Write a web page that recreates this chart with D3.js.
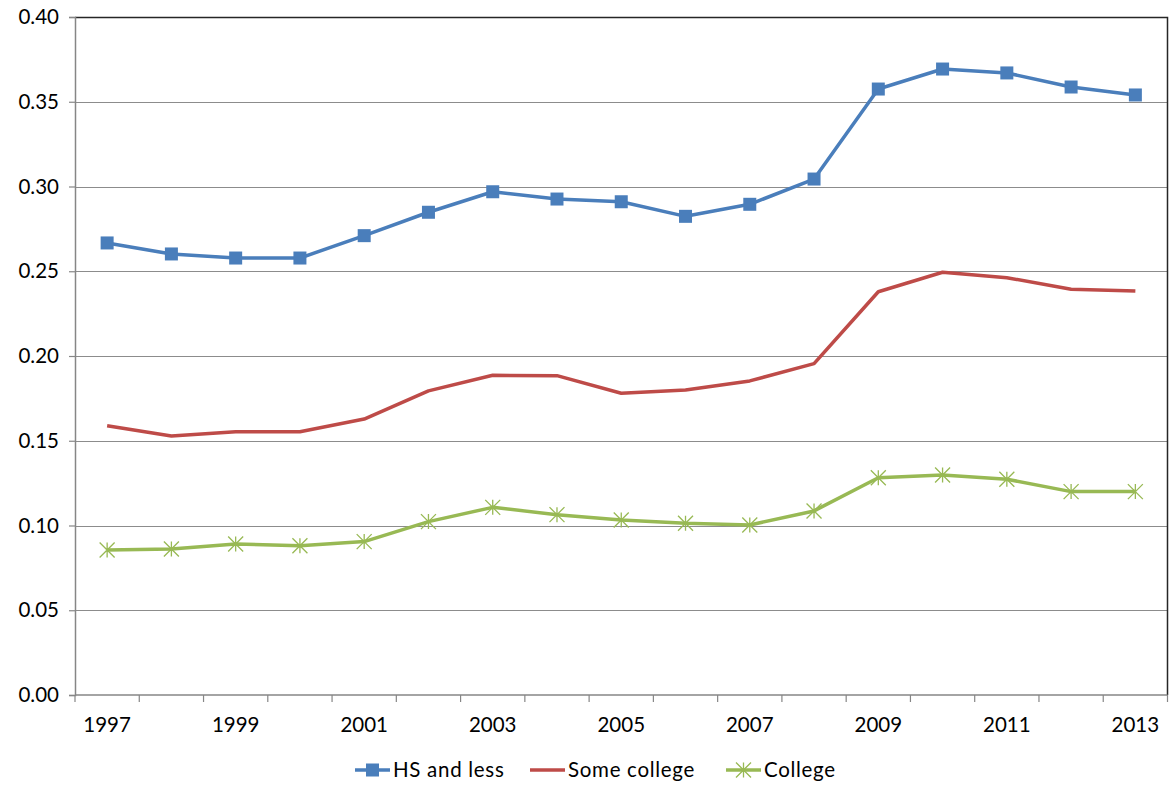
<!DOCTYPE html>
<html>
<head>
<meta charset="utf-8">
<script src="https://cdn.jsdelivr.net/npm/d3@7"></script>
<style>
  body { margin: 0; background: #fff; }
  text { font-family: Lato, "Open Sans", sans-serif; fill: #000; }
</style>
</head>
<body>
<div id="chart"></div>
<script>
// Data
const years = [1997, 1998, 1999, 2000, 2001, 2002, 2003, 2004, 2005, 2006, 2007, 2008, 2009, 2010, 2011, 2012, 2013];
const hsAndLess = [0.2667, 0.2602, 0.2578, 0.2578, 0.2710, 0.2848, 0.2969, 0.2926, 0.2910, 0.2824, 0.2895, 0.3044, 0.3575, 0.3693, 0.3670, 0.3587, 0.3540];
const someCollege = [0.1589, 0.1528, 0.1553, 0.1553, 0.1628, 0.1794, 0.1886, 0.1884, 0.1780, 0.1799, 0.1853, 0.1955, 0.2379, 0.2494, 0.2462, 0.2394, 0.2383];
const college = [0.0855, 0.0861, 0.0891, 0.0881, 0.0905, 0.1023, 0.1107, 0.1064, 0.1032, 0.1013, 0.1003, 0.1086, 0.1282, 0.1298, 0.1273, 0.1200, 0.1200];
const yTicks = [0, 0.05, 0.10, 0.15, 0.20, 0.25, 0.30, 0.35, 0.40];
const xLabelYears = [1997, 1999, 2001, 2003, 2005, 2007, 2009, 2011, 2013];

const series = [
  { name: "HS and less", values: hsAndLess, color: "#4a7ebb", marker: "square" },
  { name: "Some college", values: someCollege, color: "#be4b48", marker: "none" },
  { name: "College", values: college, color: "#98b954", marker: "star" }
];

const width = 1170, height = 788;
const margin = { top: 17, right: 2, bottom: 93, left: 75 };

const svg = d3.select("#chart")
  .append("svg")
  .attr("width", width)
  .attr("height", height);

const x = d3.scaleBand()
  .domain(years)
  .range([margin.left, width - margin.right - 0.5])
  .padding(0);

const y = d3.scaleLinear()
  .domain([0, 0.4])
  .range([height - margin.bottom, margin.top]);

// Gridlines
svg.append("g")
  .selectAll("line")
  .data(yTicks.filter(d => d > 0))
  .enter()
  .append("line")
  .attr("x1", margin.left)
  .attr("x2", x.range()[1])
  .attr("y1", d => Math.round(y(d)) + 0.5)
  .attr("y2", d => Math.round(y(d)) + 0.5)
  .attr("stroke", "#8c8c8c")
  .attr("stroke-width", 1.2);

// Plot area border (top and right dark)
svg.append("path")
  .attr("d", `M${margin.left},${Math.round(y(0.4)) + 0.5}H${x.range()[1]}V${y(0)}`)
  .attr("fill", "none")
  .attr("stroke", "#262626")
  .attr("stroke-width", 1.5);

// Y axis
const yAxis = svg.append("g")
  .attr("transform", `translate(${margin.left},0)`)
  .call(d3.axisLeft(y).tickValues(yTicks).tickFormat(d3.format(".2f")).tickSize(6).tickPadding(10));
yAxis.select(".domain").attr("stroke", "#868686").attr("stroke-width", 1.5);
yAxis.selectAll(".tick line").attr("stroke", "#868686").attr("stroke-width", 1.2);
yAxis.selectAll("text")
  .attr("font-size", 20.5)
  .style("font-family", "Lato, 'Open Sans', sans-serif")
  .attr("fill", "#000");

// X axis: ticks on category boundaries, labels every other year
const xAxisG = svg.append("g")
  .attr("transform", `translate(0,${y(0)})`);
xAxisG.append("line")
  .attr("x1", margin.left)
  .attr("x2", x.range()[1])
  .attr("stroke", "#868686")
  .attr("stroke-width", 1.5);
xAxisG.selectAll(".xtick")
  .data(years.concat([null]))
  .enter()
  .append("line")
  .attr("class", "xtick")
  .attr("x1", (d, i) => i < years.length ? x(d) : x.range()[1])
  .attr("x2", (d, i) => i < years.length ? x(d) : x.range()[1])
  .attr("y1", 0)
  .attr("y2", 7)
  .attr("stroke", "#868686")
  .attr("stroke-width", 1.2);
xAxisG.selectAll(".xlabel")
  .data(xLabelYears)
  .enter()
  .append("text")
  .attr("class", "xlabel")
  .attr("x", d => x(d) + x.bandwidth() / 2)
  .attr("y", 37)
  .attr("text-anchor", "middle")
  .attr("font-size", 20.5)
  .text(d => d);

// Lines
const line = d3.line()
  .x((d, i) => x(years[i]) + x.bandwidth() / 2)
  .y(d => y(d));

const groups = svg.append("g")
  .selectAll(".series")
  .data(series)
  .enter()
  .append("g")
  .attr("class", "series");

groups.append("path")
  .attr("d", d => line(d.values))
  .attr("fill", "none")
  .attr("stroke", d => d.color)
  .attr("stroke-width", 3.5)
  .attr("stroke-linejoin", "round");

function drawMarker(sel, s) {
  if (s.marker === "square") {
    sel.append("rect")
      .attr("x", -6.5).attr("y", -6.5)
      .attr("width", 13).attr("height", 13)
      .attr("fill", s.color);
  } else if (s.marker === "star") {
    const r = 7.5;
    sel.append("path")
      .attr("d", `M${-r},${-r}L${r},${r}M${-r},${r}L${r},${-r}M0,${-r}V${r}`)
      .attr("stroke", s.color)
      .attr("stroke-width", 1.3)
      .attr("fill", "none");
  }
}

groups.each(function (s) {
  if (s.marker === "none") return;
  d3.select(this)
    .selectAll(".pt")
    .data(s.values)
    .enter()
    .append("g")
    .attr("class", "pt")
    .attr("transform", (d, i) => `translate(${x(years[i]) + x.bandwidth() / 2},${y(d)})`)
    .each(function () { drawMarker(d3.select(this), s); });
});

// Legend
const legendX = [355, 530, 726];
const legend = svg.append("g")
  .selectAll(".legend")
  .data(series)
  .enter()
  .append("g")
  .attr("class", "legend")
  .attr("transform", (d, i) => `translate(${legendX[i]},770)`);

legend.append("line")
  .attr("x1", 0).attr("x2", 35)
  .attr("stroke", d => d.color)
  .attr("stroke-width", 3.5);
legend.each(function (s) {
  if (s.marker === "none") return;
  const g = d3.select(this).append("g").attr("transform", "translate(17.5,0)");
  drawMarker(g, s);
});
legend.append("text")
  .attr("x", 38)
  .attr("dy", "0.35em")
  .attr("font-size", 20.5)
  .attr("letter-spacing", 0.7)
  .text(d => d.name);
</script>
</body>
</html>
